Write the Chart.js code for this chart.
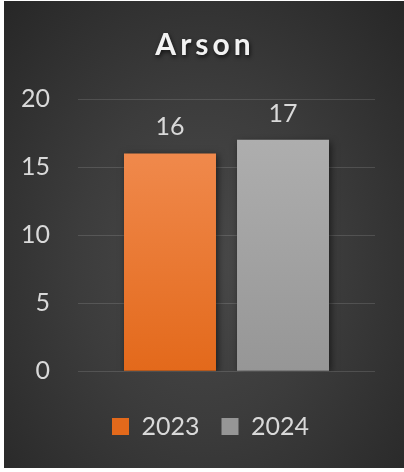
<!DOCTYPE html>
<html>
<head>
<meta charset="utf-8">
<script src="https://cdn.jsdelivr.net/npm/chart.js@4.4.1/dist/chart.umd.min.js"></script>
<style>
  html, body { margin: 0; padding: 0; background: #ffffff; }
  #wrap {
    position: absolute; left: 4px; top: 1px; width: 400px; height: 467px;
    background: radial-gradient(ellipse at 50% 55%, #4a4a4a 0%, #3c3c3c 45%, #272727 100%);
  }
</style>
</head>
<body>
<div id="wrap"><canvas id="arsonChart" width="400" height="467"></canvas></div>
<script>
const chartTitle = "Arson";
const categories = ["Arson"];
const years = ["2023", "2024"];
const counts2023 = [16];
const counts2024 = [17];
const yTicks = [0, 5, 10, 15, 20];

const FONT = "Lato, 'Open Sans', sans-serif";

function barGradient(ctx, top, bottom) {
  const chart = ctx.chart;
  const area = chart.chartArea;
  if (!area) return top;
  const g = chart.ctx.createLinearGradient(0, area.top, 0, area.bottom);
  g.addColorStop(0, top);
  g.addColorStop(1, bottom);
  return g;
}

// bar drop shadow
const shadowPlugin = {
  id: "barShadow",
  beforeDatasetsDraw(chart) {
    const c = chart.ctx;
    c.save();
    c.shadowColor = "rgba(0,0,0,0.55)";
    c.shadowBlur = 7;
    c.shadowOffsetX = 2;
    c.shadowOffsetY = 2;
  },
  afterDatasetsDraw(chart) {
    chart.ctx.restore();
  }
};

// value labels above bars
const valueLabels = {
  id: "valueLabels",
  afterDatasetsDraw(chart) {
    const c = chart.ctx;
    c.save();
    c.font = "25px " + FONT;
    c.fillStyle = "#d9d9d9";
    c.textAlign = "center";
    c.textBaseline = "alphabetic";
    chart.data.datasets.forEach((ds, i) => {
      chart.getDatasetMeta(i).data.forEach((bar, j) => {
        c.fillText(ds.data[j], bar.x, bar.y - 18);
      });
    });
    c.restore();
  }
};

// title with letter spacing + shadow (built-in title keeps the space)
const spacedTitle = {
  id: "spacedTitle",
  afterDraw(chart) {
    const box = chart.titleBlock;
    if (!box) return;
    const c = chart.ctx;
    c.save();
    c.font = "bold 30px " + FONT;
    c.letterSpacing = "4px";
    c.fillStyle = "#f2f2f2";
    c.textAlign = "center";
    c.textBaseline = "alphabetic";
    c.shadowColor = "rgba(0,0,0,0.7)";
    c.shadowBlur = 4;
    c.shadowOffsetX = 1;
    c.shadowOffsetY = 2;
    c.fillText(chartTitle, chart.width / 2 + 1, box.top + 54);
    c.restore();
  }
};

// nudge legend to the right so it sits under the plot like the original
const legendShift = {
  id: "legendShift",
  afterLayout(chart) {
    if (chart.legend) {
      chart.legend.left += 12;
      chart.legend.right += 12;
    }
  }
};

new Chart(document.getElementById("arsonChart"), {
  type: "bar",
  data: {
    labels: categories,
    datasets: [
      {
        label: years[0],
        data: counts2023,
        backgroundColor: (ctx) => barGradient(ctx, "#f39158", "#e3691b"),
        borderWidth: 0
      },
      {
        label: years[1],
        data: counts2024,
        backgroundColor: (ctx) => barGradient(ctx, "#b2b2b2", "#969696"),
        borderWidth: 0
      }
    ]
  },
  options: {
    responsive: false,
    animation: false,
    datasets: {
      bar: { categoryPercentage: 0.761, barPercentage: 0.814 }
    },
    layout: { padding: { left: 18, right: 29, top: 0, bottom: 19 } },
    scales: {
      x: {
        border: { display: false },
        grid: { display: false, drawTicks: false },
        ticks: { callback: () => "", font: { size: 9 }, padding: 5 }
      },
      y: {
        min: 0,
        max: 20,
        afterBuildTicks(axis) {
          axis.ticks = yTicks.map((v) => ({ value: v }));
        },
        afterFit(axis) {
          axis.width = 56;
        },
        border: { display: false },
        grid: { color: "rgba(255,255,255,0.13)", lineWidth: 1, drawTicks: false },
        ticks: { color: "#d9d9d9", font: { family: FONT, size: 25 }, padding: 28 }
      }
    },
    plugins: {
      title: {
        display: true,
        text: chartTitle,
        color: "rgba(0,0,0,0)",
        font: { family: FONT, size: 30, weight: "bold" },
        padding: { top: 0, bottom: 62 }
      },
      legend: {
        position: "bottom",
        labels: {
          color: "#d9d9d9",
          font: { family: FONT, size: 25 },
          boxWidth: 17,
          boxHeight: 17,
          padding: 22
        }
      },
      tooltip: { enabled: false }
    }
  },
  plugins: [shadowPlugin, valueLabels, spacedTitle, legendShift]
});
</script>
</body>
</html>
